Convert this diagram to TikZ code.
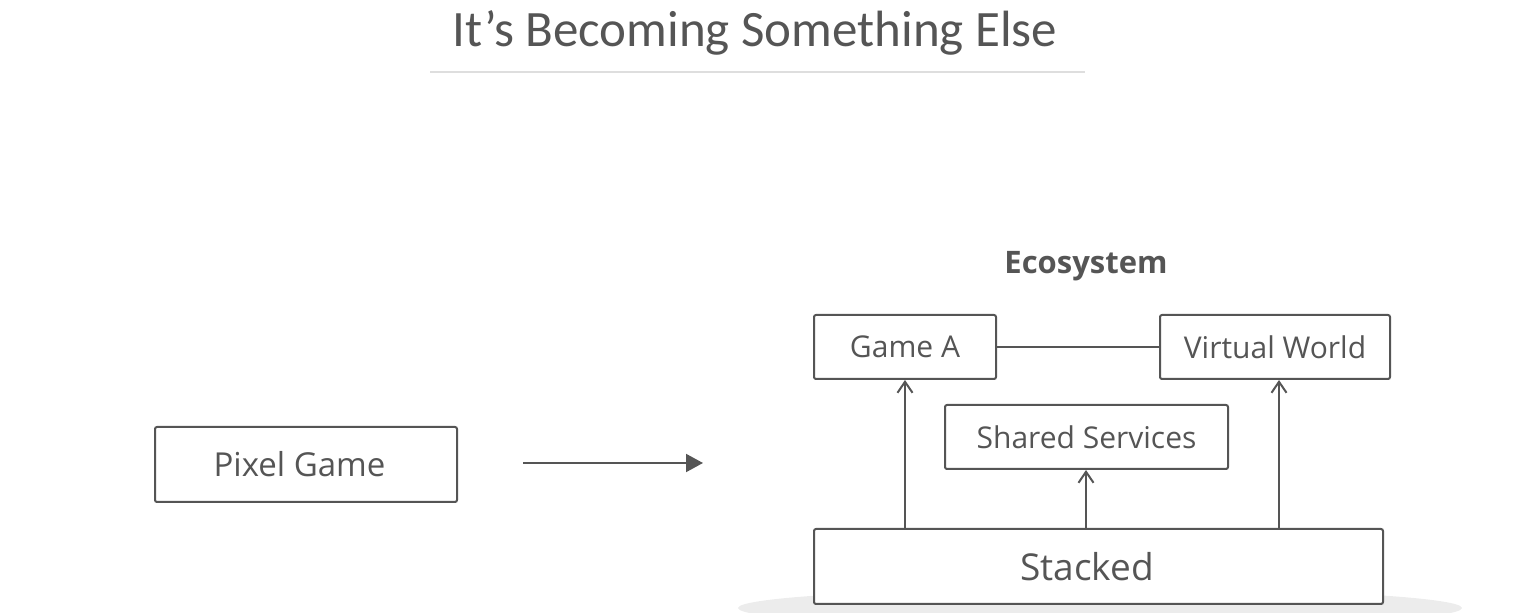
\documentclass[tikz,border=0pt]{standalone}
\usepackage{fontspec}
\usepackage{xcolor}
\usetikzlibrary{positioning, arrows.meta, calc}
\newfontfamily\titlefont{Carlito}
\newfontfamily\boxfont{Open Sans}
\definecolor{ink}{HTML}{555555}
\definecolor{rulegrey}{HTML}{DEDEDE}
\definecolor{shadowgrey}{HTML}{ECECEC}

\begin{document}
\begin{tikzpicture}[x=0.5pt, y=-0.5pt,
  font=\boxfont,
  box/.style={rectangle, draw=ink, line width=1pt, rounded corners=1pt,
              fill=white, text=ink, inner sep=0pt,
              font=\boxfont\fontsize{15}{18}\selectfont},
  link/.style={draw=ink, line width=1pt},
  up/.style={link, -{Straight Barb[length=5.5pt, width=7.5pt]}},
]
\useasboundingbox (0,0) rectangle (1536,613);

% ---- title ----
\node[text=ink, font=\titlefont\fontsize{25.5}{30}\selectfont] (title) at (755,33)
  {It’s Becoming Something Else};
\draw[rulegrey, line width=1pt] (430,72) -- (1085,72);

% ---- before ----
\node[box, minimum width=151pt, minimum height=37.5pt,
      font=\boxfont\fontsize{16.5}{18}\selectfont] (pixel) at (306,464.5) {Pixel Game\hspace*{6.5pt}};
\coordinate (from) at (523,463);
\coordinate (to)   at (703,463);
\draw[link, -{Triangle[length=8.5pt, width=9pt]}] (from) -- (to);

% ---- after: ecosystem ----
\fill[shadowgrey] (1100,608) ellipse [x radius=362, y radius=20];
\node[text=ink, font=\boxfont\bfseries\fontsize{15.5}{18}\selectfont] (eco) at (1086,266) {Ecosystem};
\node[box, minimum width=91pt, minimum height=32pt] (gamea) at (905,347) {Game A};
\node[box, minimum width=115pt, minimum height=32pt] (world) at (1275,347) {Virtual World};
\node[box, minimum width=141.5pt, minimum height=32pt] (shared) at (1086.5,437) {Shared Services};
\node[box, minimum width=284.5pt, minimum height=37.5pt,
      font=\boxfont\fontsize{18.5}{22}\selectfont] (stack) at (1098.5,566.5) {Stacked\hspace*{11.5pt}};

\draw[link] (gamea) -- (world);
\draw[up] (gamea.south |- stack.north) -- (gamea.south);
\draw[up] ($(shared.south |- stack.north)+(-0.5,0)$) -- ($(shared.south)+(-0.5,0)$);
\draw[up] ($(world.south |- stack.north)+(4,0)$) -- ($(world.south)+(4,0)$);

\end{tikzpicture}
\end{document}
